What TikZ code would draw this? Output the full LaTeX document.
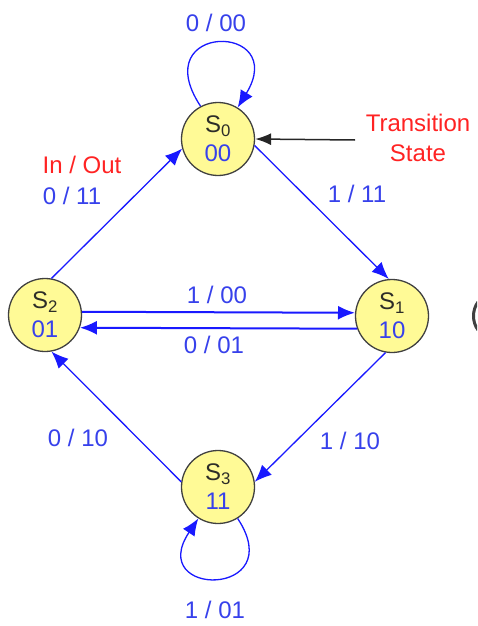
\documentclass[tikz,border=0pt]{standalone}
\usepackage{fontspec}
\setmainfont{Liberation Sans}
\usetikzlibrary{arrows.meta}
\definecolor{stateFill}{RGB}{255,250,150}
\definecolor{edgeBlue}{RGB}{25,25,255}
\definecolor{labBlue}{RGB}{55,65,235}
\definecolor{noteRed}{RGB}{255,35,35}
\definecolor{nameGray}{RGB}{45,45,40}
\begin{document}
\begin{tikzpicture}[x=1pt,y=-1pt,
  state/.style={circle, draw=black!75, line width=1.3pt, fill=stateFill,
    minimum size=73pt, inner sep=0pt, align=center,
    font=\fontsize{24}{29}\selectfont},
  edge/.style={draw=edgeBlue, line width=1.3pt, -{Latex[length=17pt,width=14pt]}},
  thickedge/.style={edge, line width=2pt},
  lab/.style={text=labBlue, inner sep=0pt, font=\fontsize{24}{28}\selectfont},
  note/.style={text=noteRed, inner sep=0pt, align=center, font=\fontsize{24}{30}\selectfont}]
  \useasboundingbox (0,0) rectangle (477,626);
  \clip (0,0) rectangle (477,626);

  % states
  \node[state] (s0) at (218,139) {\textcolor{nameGray}{S\textsubscript{0}}\\\textcolor{labBlue}{00}};
  \node[state] (s1) at (392,316) {\textcolor{nameGray}{S\textsubscript{1}}\\\textcolor{labBlue}{10}};
  \node[state] (s2) at (45,315) {\textcolor{nameGray}{S\textsubscript{2}}\\\textcolor{labBlue}{01}};
  \node[state] (s3) at (218,487) {\textcolor{nameGray}{S\textsubscript{3}}\\\textcolor{labBlue}{11}};

  % transitions
  \draw[edge] (s0.118) .. controls (145,22) and (290,22) .. (s0.58);
  \draw[edge] (s3.-58) .. controls (290,598) and (145,598) .. (s3.-122);
  \draw[edge] (s2.80) -- (s0.195);
  \draw[edge] (s0.-10) -- (s1.95);
  \draw[thickedge] (s2.5) -- (s1.175);
  \draw[thickedge] (s1.-160) -- (s2.-20);
  \draw[edge] (s1.-100) -- (s3.8);
  \draw[edge] (s3.172) -- (s2.-80);

  % labels
  \node[lab] (l00) at (216,23) {0 / 00};
  \node[note] (io) at (82,165) {In / Out};
  \node[lab] (l011) at (72,196) {0 / 11};
  \node[lab] (l111) at (357,194) {1 / 11};
  \node[lab] (l100) at (217,295) {1 / 00};
  \node[lab] (l001) at (214,345) {0 / 01};
  \node[lab] (l010) at (78,438) {0 / 10};
  \node[lab] (l110) at (350,441) {1 / 10};
  \node[lab] (l101) at (215,610) {1 / 01};

  % annotation
  \node[note] (ts) at (418,138) {Transition\\State};
  \coordinate (tsTail) at (355,140);
  \draw[black!85, line width=1.5pt, -{Latex[length=16pt,width=12pt]}] (tsTail) -- (s0.east);

  % partly visible mark at the right border
  \draw[black!75, line width=3pt] (478,302) .. controls (472,310) and (472,322) .. (478,330);
\end{tikzpicture}
\end{document}
